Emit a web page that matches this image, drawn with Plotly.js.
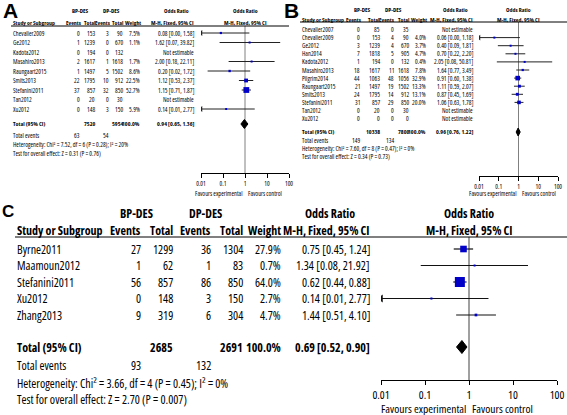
<!DOCTYPE html>
<html><head><meta charset="utf-8">
<script src="https://cdn.plot.ly/plotly-3.0.1.min.js"></script>
<style>html,body{margin:0;padding:0;background:#fff}#chart{width:567px;height:415px}
text, tspan{font-stretch:75% !important;}</style>
</head><body><div id="chart"></div>
<script>
// ---------- DATA: Panel A ----------
const studiesA  = ['Chevalier2009','Ge2012','Kadota2012','Masahiro2013','Raungaart2015','Smits2013','Stefanini2011','Tan2012','Xu2012'];
const bpEventsA = [0,1,0,2,1,22,37,0,0];
const bpTotalA  = [153,1239,194,1617,1497,1795,857,20,148];
const dpEventsA = [3,0,0,1,5,10,32,0,3];
const dpTotalA  = [90,670,132,1618,1502,912,850,30,150];
const weightA   = [7.5,1.1,null,1.7,8.6,22.5,52.7,null,5.9];
const orA       = [0.08,1.62,null,2.00,0.20,1.12,1.15,null,0.14];
const loA       = [0.00,0.07,null,0.18,0.02,0.53,0.71,null,0.01];
const hiA       = [1.58,39.82,null,22.11,1.72,2.37,1.87,null,2.77];
const totalNA   = [7520,5954];
const totalOrA  = [0.94,0.65,1.36];
const totalEvA  = [63,54];
const hetA  = 'Heterogeneity: Chi² = 7.52, df = 6 (P = 0.28); I² = 20%';
const testA = 'Test for overall effect: Z = 0.31 (P = 0.76)';

// ---------- DATA: Panel B ----------
const studiesB  = ['Chevalier2007','Chevalier2009','Ge2012','Han2014','Kadota2012','Masahiro2013','Pilgrim2014','Raungaart2015','Smits2013','Stefanini2011','Tan2012','Xu2012'];
const bpEventsB = [0,0,3,7,1,18,44,21,24,31,0,0];
const bpTotalB  = [85,153,1239,1818,194,1617,1063,1497,1795,857,20,0];
const dpEventsB = [0,4,4,5,0,11,48,19,14,29,0,0];
const dpTotalB  = [35,90,670,905,132,1618,1056,1502,912,850,30,0];
const weightB   = [null,4.0,3.7,4.7,0.4,7.8,32.9,13.3,13.1,20.0,null,null];
const orB       = [null,0.06,0.40,0.70,2.05,1.64,0.91,1.11,0.87,1.06,null,null];
const loB       = [null,0.00,0.09,0.22,0.08,0.77,0.60,0.59,0.45,0.63,null,null];
const hiB       = [null,1.18,1.81,2.20,50.81,3.49,1.38,2.07,1.69,1.78,null,null];
const totalNB   = [10338,7800];
const totalOrB  = [0.96,0.76,1.22];
const totalEvB  = [149,134];
const hetB  = 'Heterogeneity: Chi² = 7.60, df = 8 (P = 0.47); I² = 0%';
const testB = 'Test for overall effect: Z = 0.34 (P = 0.73)';

// ---------- DATA: Panel C ----------
const studiesC  = ['Byrne2011','Maamoun2012','Stefanini2011','Xu2012','Zhang2013'];
const bpEventsC = [27,1,56,0,9];
const bpTotalC  = [1299,62,857,148,319];
const dpEventsC = [36,1,86,3,6];
const dpTotalC  = [1304,83,850,150,304];
const weightC   = [27.9,0.7,64.0,2.7,4.7];
const orC       = [0.75,1.34,0.62,0.14,1.44];
const loC       = [0.45,0.08,0.44,0.01,0.51];
const hiC       = [1.24,21.92,0.88,2.77,4.10];
const totalNC   = [2685,2691];
const totalOrC  = [0.69,0.52,0.90];
const totalEvC  = [93,132];
const hetC  = 'Heterogeneity: Chi² = 3.66, df = 4 (P = 0.45); I² = 0%';
const testC = 'Test for overall effect: Z = 2.70 (P = 0.007)';

const tickValues = [0.01,0.1,1,10,100];
const tickLabels = ['0.01','0.1','1','10','100'];
const groupLabels = ['BP-DES','DP-DES'];

// ---------- LAYOUT / STYLE ----------
const W = 567, H = 415;
const NARROW = '"Open Sans","Liberation Sans",Arial,sans-serif';
const ARIAL = '"Liberation Sans",Arial,sans-serif';
const annotations = [], shapes = [], traces = [];
const layoutAxes = {};

function txt(x, y, s, size, opts) {
  const a = Object.assign({xref:'x4', yref:'y', x:x, y:y, text:s, showarrow:false,
    xanchor:'right', yanchor:'middle', font:{family:NARROW, size:size, color:'#000'}}, opts||{});
  a.align = a.xanchor;
  annotations.push(a);
}
function fmt(v){ return v.toFixed(2); }

function panel(d, g) {
  const fs = g.fs, fh = g.fh, ft = g.ft;
  txt(g.bpC, g.h1, '<b>'+groupLabels[0]+'</b>', fh, {xanchor:'center'});
  txt(g.dpC, g.h1, '<b>'+groupLabels[1]+'</b>', fh, {xanchor:'center'});
  txt(g.orHdr, g.h1, '<b>Odds Ratio</b>', fh, {xanchor:'center'});
  txt(g.cName, g.h2, '<b>Study or Subgroup</b>', fh, {xanchor:'left'});
  txt(g.hBpEv, g.h2, '<b>Events</b>', fh);
  txt(g.hBpTot, g.h2, '<b>Total</b>', fh);
  txt(g.hDpEv, g.h2, '<b>Events</b>', fh);
  txt(g.hDpTot, g.h2, '<b>Total</b>', fh);
  txt(g.hWt, g.h2, '<b>Weight</b>', fh);
  txt(g.cOr, g.h2, '<b>M-H, Fixed, 95% CI</b>', fh);
  annotations.push({xref:g.xa, yref:'y', x:0, y:g.h1, text:'<b>Odds Ratio</b>', showarrow:false,
    xanchor:'center', yanchor:'middle', font:{family:NARROW, size:fh, color:'#000'}});
  annotations.push({xref:g.xa, yref:'y', x:0, y:g.h2, text:'<b>M-H, Fixed, 95% CI</b>', showarrow:false,
    xanchor:'center', yanchor:'middle', font:{family:NARROW, size:fh, color:'#000'}});
  shapes.push({type:'line', xref:'x4', yref:'y', x0:g.lineX0, x1:g.lineX1, y0:g.hLine, y1:g.hLine,
    line:{color:'#000', width:1}});
  traces.push({type:'scatter', mode:'lines', xaxis:g.xa, yaxis:'y', x:[1,1], y:[g.hLine, g.axisY],
    line:{color:'#808080', width:g.refW}, hoverinfo:'skip'});

  d.studies.forEach((s, i) => {
    const y = g.row0 + i*g.step;
    txt(g.cName, y, s, fs, {xanchor:'left'});
    txt(g.cBpEv, y, String(d.bpEv[i]), fs);
    txt(g.cBpTot, y, String(d.bpTot[i]), fs);
    txt(g.cDpEv, y, String(d.dpEv[i]), fs);
    txt(g.cDpTot, y, String(d.dpTot[i]), fs);
    if (d.or[i] == null) { txt(g.cOr, y, 'Not estimable', fs); return; }
    txt(g.cWt, y, d.w[i].toFixed(1)+'%', fs);
    txt(g.cOr, y, fmt(d.or[i])+' ['+fmt(d.lo[i])+', '+fmt(d.hi[i])+']', fs);
    const lo = Math.max(d.lo[i], tickValues[0]), hi = Math.min(d.hi[i], tickValues[4]);
    traces.push({type:'scatter', mode:'lines', xaxis:g.xa, yaxis:'y', x:[lo, hi], y:[y, y],
      line:{color:g.ciColor, width:g.ciW}, hoverinfo:'skip'});
    if (d.lo[i] <= tickValues[0]) {
      traces.push({type:'scatter', mode:'markers', xaxis:g.xa, yaxis:'y', x:[lo], y:[y],
        marker:{symbol:'triangle-left', size:g.arrow, color:g.ciColor}, hoverinfo:'skip'});
    }
    traces.push({type:'scatter', mode:'markers', xaxis:g.xa, yaxis:'y', x:[d.or[i]], y:[y],
      marker:{symbol:'square', size:Math.max(g.sqMin, g.sq*Math.sqrt(d.w[i])), color:'#0000c8', line:{width:0}},
      hoverinfo:'skip'});
  });
  txt(g.cName, g.yTot, '<b>Total (95% CI)</b>', ft, {xanchor:'left'});
  txt(g.cBpTot, g.yTot, '<b>'+d.totN[0]+'</b>', ft);
  txt(g.cDpTot, g.yTot, '<b>'+d.totN[1]+'</b>', ft);
  txt(g.cWt, g.yTot, '<b>100.0%</b>', ft);
  txt(g.cOr, g.yTot, '<b>'+fmt(d.totOr[0])+' ['+fmt(d.totOr[1])+', '+fmt(d.totOr[2])+']</b>', ft);
  txt(g.cName, g.yEv, 'Total events', fs, {xanchor:'left'});
  txt(g.cBpEv, g.yEv, String(d.totEv[0]), fs);
  txt(g.cDpEv, g.yEv, String(d.totEv[1]), fs);
  txt(g.cName, g.yHet, d.het, fs, {xanchor:'left'});
  txt(g.cName, g.yTest, d.test, fs, {xanchor:'left'});
  const t = d.totOr;
  traces.push({type:'scatter', mode:'lines', xaxis:g.xa, yaxis:'y', fill:'toself', fillcolor:'#000',
    x:[t[1], t[0], t[2], t[0], t[1]], y:[g.yTot, g.yTot-g.dh, g.yTot, g.yTot+g.dh, g.yTot],
    line:{color:'#000', width:1}, hoverinfo:'skip'});
  annotations.push({xref:g.xa, yref:'y', x:0, y:g.yFav, text:'Favours experimental', showarrow:false,
    xanchor:'right', align:'right', xshift:-1, yanchor:'middle', font:{family:NARROW, size:g.fa, color:'#000'}});
  annotations.push({xref:g.xa, yref:'y', x:0, y:g.yFav, text:'Favours control', showarrow:false,
    xanchor:'left', align:'left', xshift:1, yanchor:'middle', font:{family:NARROW, size:g.fa, color:'#000'}});
  const key = g.xa === 'x' ? 'xaxis' : 'xaxis' + g.xa.slice(1);
  layoutAxes[key] = {type:'log', domain:[g.px0/W, g.px1/W], range:[-2, 2], anchor:'free',
    position:1 - g.axisY/H, showline:true, linecolor:'#000', linewidth:1, ticks:'outside',
    ticklen:g.tickLen, tickcolor:'#000', tickwidth:1, tickvals:tickValues, ticktext:tickLabels,
    ticklabelstandoff:0,
    tickfont:{family:NARROW, size:g.fa, color:'#000'}, showgrid:false, zeroline:false, fixedrange:true};
}

panel({studies:studiesA, bpEv:bpEventsA, bpTot:bpTotalA, dpEv:dpEventsA, dpTot:dpTotalA, w:weightA,
       or:orA, lo:loA, hi:hiA, totN:totalNA, totOr:totalOrA, totEv:totalEvA, het:hetA, test:testA},
      {xa:'x', fs:6.4, fh:5.9, ft:6.0, fa:6.4, h1:11, h2:23, hLine:26, lineX0:11, lineX1:289, row0:33, step:9.5,
       yTot:124, yEv:135, yHet:144, yTest:153, axisY:173, yFav:193, px0:201, px1:289,
       cName:11, cBpEv:82, cBpTot:97, cDpEv:111, cDpTot:125, cWt:142, cOr:196,
       hBpEv:84, hBpTot:98, hDpEv:113, hDpTot:126, hWt:143,
       bpC:80, dpC:111, orHdr:176, sq:0.8, sqMin:2, dh:4.5, arrow:5, ciW:1, ciColor:'#222', refW:1, tickLen:4});

panel({studies:studiesB, bpEv:bpEventsB, bpTot:bpTotalB, dpEv:dpEventsB, dpTot:dpTotalB, w:weightB,
       or:orB, lo:loB, hi:hiB, totN:totalNB, totOr:totalOrB, totEv:totalEvB, het:hetB, test:testB},
      {xa:'x2', fs:6.4, fh:5.9, ft:6.0, fa:6.4, h1:10, h2:19.5, hLine:22, lineX0:300, lineX1:567, row0:29.5, step:8.1,
       yTot:132, yEv:140, yHet:148, yTest:156, axisY:176, yFav:193, px0:479, px1:558,
       cName:300, cBpEv:362, cBpTot:382, cDpEv:396, cDpTot:411, cWt:428, cOr:475,
       hBpEv:364, hBpTot:382, hDpEv:397, hDpTot:412, hWt:429,
       bpC:362, dpC:393, orHdr:455, sq:0.8, sqMin:2, dh:4, arrow:5, ciW:1, ciColor:'#222', refW:1, tickLen:4});

panel({studies:studiesC, bpEv:bpEventsC, bpTot:bpTotalC, dpEv:dpEventsC, dpTot:dpTotalC, w:weightC,
       or:orC, lo:loC, hi:hiC, totN:totalNC, totOr:totalOrC, totEv:totalEvC, het:hetC, test:testC},
      {xa:'x3', fs:12, fh:12, ft:12, fa:11.5, h1:213, h2:230, hLine:237, lineX0:15, lineX1:567, row0:249, step:16.5,
       yTot:347, yEv:365, yHet:383, yTest:399, axisY:380, yFav:408, px0:381, px1:557,
       cName:15, cBpEv:143, cBpTot:175, cDpEv:213, cDpTot:245, cWt:283, cOr:372,
       hBpEv:143, hBpTot:175, hDpEv:213, hDpTot:245, hWt:283,
       bpC:136, dpC:205, orHdr:330, sq:1.25, sqMin:2, dh:6.5, arrow:7, ciW:1.2, ciColor:'#111', refW:1.5, tickLen:4});

annotations.push({xref:'x4', yref:'y', x:1, y:10, text:'<b>A</b>', showarrow:false, xanchor:'left', align:'left', yanchor:'middle',
  font:{family:ARIAL, size:21, color:'#000'}});
annotations.push({xref:'x4', yref:'y', x:282, y:10, text:'<b>B</b>', showarrow:false, xanchor:'left', align:'left', yanchor:'middle',
  font:{family:ARIAL, size:21, color:'#000'}});
annotations.push({xref:'x4', yref:'y', x:0, y:211, text:'<b>C</b>', showarrow:false, xanchor:'left', align:'left', yanchor:'middle',
  font:{family:ARIAL, size:17, color:'#000'}});

const layout = Object.assign({
  width:W, height:H, margin:{l:0, r:0, t:0, b:0, pad:0}, showlegend:false,
  paper_bgcolor:'#fff', plot_bgcolor:'rgba(0,0,0,0)',
  xaxis4:{domain:[0,1], range:[0,W], visible:false, fixedrange:true, anchor:'y'},
  yaxis:{domain:[0,1], range:[H,0], visible:false, fixedrange:true, anchor:'x4'},
  annotations:annotations, shapes:shapes
}, layoutAxes);

traces.push({type:'scatter', mode:'markers', xaxis:'x4', yaxis:'y', x:[], y:[], hoverinfo:'skip'});

// warm up the condensed font instances so text measurement is correct
const NS = 'http://www.w3.org/2000/svg';
const probe = document.createElementNS(NS, 'svg');
probe.setAttribute('style', 'position:absolute;left:-2000px;top:0;width:50px;height:50px');
[5.9, 6.0, 6.4, 11.5, 12].forEach(sz => ['normal', 'bold'].forEach(wt => {
  const t = document.createElementNS(NS, 'text');
  t.setAttribute('y', '20');
  t.setAttribute('style', 'font-family:"Open Sans";font-size:' + sz + 'px;font-weight:' + wt);
  t.textContent = 'Study Maamoun Byrne 0123456789 [.,%]';
  probe.appendChild(t);
}));
document.body.appendChild(probe);
probe.querySelectorAll('text').forEach(t => t.getComputedTextLength());

function draw() {
  probe.remove();
  Plotly.newPlot('chart', traces, layout, {displayModeBar:false, staticPlot:true});
}
const ready = (document.fonts && document.fonts.ready) ? document.fonts.ready : Promise.resolve();
ready.then(() => requestAnimationFrame(draw));
</script></body></html>
